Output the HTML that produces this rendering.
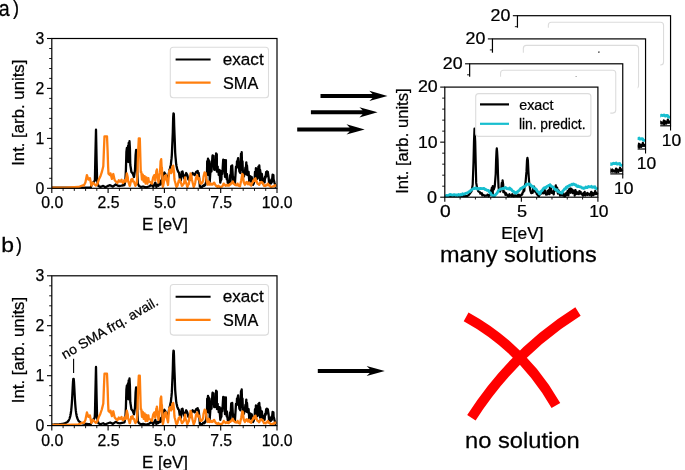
<!DOCTYPE html><html><head><meta charset="utf-8"><style>html,body{margin:0;padding:0;background:#fff;}svg{display:block;will-change:transform;} text{stroke:#000;stroke-width:0.25px;} svg{font-family:"Liberation Sans", sans-serif;}</style></head><body><svg width="685" height="470" viewBox="0 0 685 470" font-family="&quot;Liberation Sans&quot;, sans-serif">
<rect width="685" height="470" fill="#fff"/>
<polyline points="52.0,187.6 90.8,187.3 92.1,183.1 93.5,182.4 94.9,180.4 95.3,159.6 96.0,129.7 96.6,159.6 97.1,180.4 98.4,185.9 100.4,187.0 103.2,185.9 105.3,187.3 107.4,186.2 110.1,185.2 112.9,186.6 115.7,184.5 118.4,185.9 120.0,186.0 122.0,185.5 124.5,185.0 125.4,180.0 125.9,170.0 126.4,152.0 126.9,148.0 127.3,160.0 127.6,150.0 128.0,146.0 128.3,162.0 128.7,143.0 129.1,150.0 129.5,141.2 129.9,148.0 130.3,165.0 130.8,168.0 131.4,172.0 132.7,173.4 134.0,177.0 135.0,170.0 135.6,155.0 136.1,150.0 136.7,158.0 137.2,170.0 137.8,183.6 139.0,186.0 141.0,187.0 143.0,186.5 146.0,187.3 149.0,186.5 151.6,184.7 153.2,186.9 154.3,184.7 155.3,182.6 156.4,186.9 157.5,184.7 158.5,185.8 159.6,180.5 160.6,184.7 161.7,181.5 162.8,175.1 164.4,172.5 165.4,174.1 166.5,176.2 167.6,177.8 168.6,175.1 169.5,169.7 169.8,169.1 170.0,168.3 170.2,167.4 170.5,166.4 170.8,165.0 171.0,163.4 171.2,161.4 171.5,158.9 171.8,155.6 172.0,151.6 172.2,146.4 172.5,140.1 172.8,132.6 173.0,124.6 173.2,117.4 173.5,113.3 173.8,113.8 174.0,118.8 174.2,126.3 174.5,134.4 174.8,141.7 175.0,147.9 175.2,152.8 175.5,156.8 175.8,159.9 176.0,162.3 176.2,164.3 176.5,165.9 176.8,167.3 177.0,168.3 177.2,169.3 177.5,170.0 177.8,170.7 178.0,171.2 178.2,171.7 178.5,172.1 178.8,172.5 179.0,172.8 179.8,178.3 180.9,180.5 181.7,171.9 182.5,171.4 183.2,175.1 184.1,178.3 185.1,176.2 186.2,173.0 187.3,175.1 188.3,179.4 189.4,180.5 190.5,176.2 191.5,175.1 192.6,173.0 193.7,174.1 194.7,175.1 196.1,171.9 197.7,170.9 198.0,173.3 198.7,173.0 198.9,175.3 199.8,185.7 199.8,186.5 200.7,187.2 201.4,186.8 201.6,187.1 202.5,186.7 203.0,185.7 203.4,185.5 204.3,185.9 204.6,184.7 205.2,185.1 206.1,182.0 206.2,175.1 207.0,174.8 207.2,161.3 207.9,160.8 208.0,158.6 208.8,175.3 208.8,160.2 209.7,175.1 209.7,181.9 210.4,171.9 210.6,172.0 211.5,161.3 211.5,171.5 212.4,156.7 212.6,155.4 213.3,158.1 213.6,156.0 214.2,169.8 214.5,169.8 215.1,165.0 215.2,161.3 216.0,169.6 216.1,153.3 216.8,154.4 216.9,171.7 217.7,166.6 217.8,171.7 218.6,171.9 218.7,174.9 219.5,169.8 219.6,172.9 220.3,182.6 220.5,181.3 221.4,179.3 221.6,170.9 222.3,174.0 223.2,159.7 223.2,160.6 224.1,168.2 224.3,160.2 225.0,176.9 225.1,175.1 225.9,160.2 225.9,174.8 226.8,179.3 226.9,174.0 227.7,182.7 228.0,181.5 228.6,184.2 229.0,182.6 229.5,184.4 230.1,175.1 230.4,181.9 231.2,166.1 231.3,170.5 232.2,168.8 232.2,165.5 233.1,181.4 233.3,177.2 234.0,179.9 234.9,182.6 234.9,183.7 235.8,169.8 236.0,166.6 236.7,167.8 237.0,161.3 237.6,160.8 238.1,158.1 238.5,162.8 239.4,171.4 240.3,173.0 241.0,153.8 241.2,170.0 241.7,152.2 242.1,167.4 242.5,161.3 243.0,175.5 243.3,171.9 243.9,176.4 244.4,174.0 244.8,173.2 245.4,167.6 245.7,171.9 246.3,162.3 246.6,174.5 247.0,165.5 247.5,172.1 247.8,175.1 248.4,173.0 248.6,171.9 249.3,182.2 249.5,178.3 250.2,178.4 250.2,176.2 251.0,176.7 251.1,181.6 251.8,177.2 252.0,182.4 252.9,180.4 252.9,184.8 253.8,183.3 253.9,182.0 254.7,177.8 255.0,171.9 255.6,178.5 255.9,168.2 256.5,177.7 256.6,168.7 257.4,178.8 257.7,174.0 258.3,177.7 258.4,166.6 259.2,174.3 259.3,165.5 260.1,180.4 260.1,169.8 260.9,176.2 261.0,178.4 261.9,180.4 261.9,174.0 262.8,183.7 263.0,178.3 263.7,182.0 264.0,181.5 264.6,182.4 265.1,176.7 265.5,177.9 266.2,171.9 266.4,176.3 266.9,171.4 267.3,172.4 267.8,171.9 268.2,174.7 268.6,177.2 269.1,183.4 269.4,180.4 270.0,183.2 270.4,182.0 270.9,183.6 271.5,179.3 271.8,182.5 272.6,174.6 272.7,178.1 273.4,175.1 273.6,179.3 274.2,181.5 274.5,183.1 275.2,184.7 275.4,186.6 276.1,186.8" fill="none" stroke="#000" stroke-width="2.3" stroke-linejoin="round"/>
<polyline points="52.0,187.6 65.8,187.6 78.3,187.0 79.7,186.6 83.1,185.2 83.9,185.6 85.4,182.6 86.9,175.1 88.4,179.6 89.9,178.1 91.4,185.6 92.9,182.6 94.4,184.1 95.9,185.6 97.4,184.1 98.8,179.6 100.3,176.6 101.8,172.2 103.3,166.2 103.9,150.6 104.5,136.4 107.0,136.4 107.6,150.6 108.1,166.2 108.5,173.7 110.0,175.1 110.5,173.3 111.9,178.9 113.3,174.0 114.7,180.2 116.0,181.6 117.4,183.0 118.8,180.2 120.0,181.7 120.2,181.6 121.6,179.6 121.6,181.2 123.0,183.0 123.2,182.9 124.3,180.2 124.8,181.7 125.7,181.6 126.4,176.6 126.8,173.3 127.8,177.5 128.0,180.9 128.8,183.0 129.6,185.8 129.9,185.8 131.2,179.8 131.2,179.6 132.6,178.9 132.8,181.4 134.0,181.6 134.4,183.0 135.4,185.8 136.0,184.8 136.8,183.0 137.6,168.3 138.1,152.6 138.8,138.4 139.2,150.2 139.8,138.4 140.6,166.4 140.8,172.1 141.3,172.0 142.0,179.6 142.4,177.3 142.8,174.7 143.7,181.6 144.0,180.9 144.6,176.1 145.6,183.7 145.6,183.0 146.4,177.5 147.2,183.1 147.4,183.7 148.4,178.2 148.8,181.6 149.2,181.6 150.4,182.3 152.0,183.7 152.1,182.6 153.2,177.3 153.6,176.5 154.3,175.1 155.2,180.1 155.3,180.5 156.4,170.9 156.8,170.2 156.9,169.3 157.7,176.2 158.4,182.2 158.5,182.6 159.6,175.1 160.0,172.9 160.6,161.3 161.2,159.2 161.6,166.8 161.9,167.7 162.8,186.9 163.2,185.8 163.8,182.6 164.8,177.7 164.9,176.2 166.0,175.1 166.4,179.3 167.0,180.5 168.0,185.0 168.1,184.7 169.2,170.9 169.6,171.9 170.2,169.8 171.2,173.1 171.3,171.9 172.4,166.6 172.8,171.5 173.2,165.6 174.0,171.9 174.4,178.7 174.7,180.5 175.6,183.7 176.0,185.8 176.6,186.9 177.6,185.6 177.7,184.7 178.8,180.5 179.2,181.7 179.8,179.4 180.8,183.0 180.9,182.6 181.9,185.8 182.4,185.7 183.0,184.7 184.0,183.3 184.1,182.6 185.1,177.3 185.6,181.7 186.2,182.6 187.2,186.6 187.3,186.9 188.3,184.7 188.8,184.2 189.4,180.5 190.4,175.5 190.5,173.5 191.5,176.2 192.0,180.0 192.6,182.6 193.6,186.8 193.7,186.9 194.7,184.7 195.2,182.7 196.1,177.2 196.8,177.2 197.1,175.1 198.2,179.4 198.4,179.2 199.3,178.3 200.0,182.2 200.3,183.6 201.4,182.6 201.6,183.6 202.4,182.6 203.2,180.0 203.5,176.7 204.6,172.4 204.8,172.7 205.6,173.0 206.4,179.8 206.7,181.5 207.8,184.7 208.0,184.2 208.8,181.5 209.6,183.9 209.9,184.7 211.0,183.6 211.2,184.4 212.0,184.7 212.8,184.4 213.1,183.6 214.1,182.6 214.4,183.1 215.2,184.7 216.0,185.9 216.3,185.7 217.3,186.8 217.6,186.9 218.4,185.7 219.2,186.6 219.5,186.8 220.5,186.8 220.8,186.8 222.4,186.3 222.7,185.7 223.7,183.6 224.0,184.4 224.8,184.7 225.6,185.8 225.9,185.7 226.9,184.7 227.2,185.4 228.0,185.7 228.8,185.7 229.0,184.7 230.1,184.1 230.4,184.5 231.7,182.6 232.0,183.2 232.8,181.5 233.6,183.7 233.8,183.6 234.9,184.7 235.2,185.1 236.5,184.7 236.8,185.2 237.6,183.6 238.4,185.5 238.6,185.7 240.0,186.3 240.1,185.7 241.2,180.4 241.6,178.1 242.3,174.0 243.1,175.1 243.2,177.9 243.8,182.5 244.8,184.5 244.9,184.7 246.0,182.5 246.4,183.3 247.0,182.0 248.0,184.2 248.1,183.6 249.2,182.5 249.6,184.5 250.2,184.7 251.2,185.5 251.3,184.7 252.4,182.5 252.8,182.4 253.4,180.4 254.4,180.9 254.5,179.3 255.5,178.3 256.0,181.6 256.3,180.4 257.1,182.5 257.6,183.8 258.2,183.6 259.2,184.9 259.3,184.7 260.3,182.5 260.8,182.8 261.4,182.0 262.4,182.9 262.5,182.5 263.5,184.7 264.0,185.9 264.6,185.7 265.6,186.0 265.6,185.7 266.7,184.7 267.2,185.1 267.8,183.6 268.8,185.4 268.8,184.7 269.9,185.7 270.4,186.6 271.0,186.8 272.0,186.8 272.0,186.8 273.1,186.3 273.6,186.5 274.2,185.7 275.2,185.9 275.2,185.2 276.5,185.7" fill="none" stroke="#ff7f0e" stroke-width="2.3" stroke-linejoin="round"/>
<rect x="51.8" y="38.5" width="225.2" height="149.8" fill="none" stroke="#000" stroke-width="1.2"/>
<line x1="47.0" y1="188.3" x2="51.8" y2="188.3" stroke="#000" stroke-width="1.1"/>
<line x1="47.0" y1="138.4" x2="51.8" y2="138.4" stroke="#000" stroke-width="1.1"/>
<line x1="47.0" y1="88.4" x2="51.8" y2="88.4" stroke="#000" stroke-width="1.1"/>
<line x1="47.0" y1="38.5" x2="51.8" y2="38.5" stroke="#000" stroke-width="1.1"/>
<line x1="49.2" y1="178.3" x2="51.8" y2="178.3" stroke="#000" stroke-width="0.9"/>
<line x1="49.2" y1="168.3" x2="51.8" y2="168.3" stroke="#000" stroke-width="0.9"/>
<line x1="49.2" y1="158.3" x2="51.8" y2="158.3" stroke="#000" stroke-width="0.9"/>
<line x1="49.2" y1="148.4" x2="51.8" y2="148.4" stroke="#000" stroke-width="0.9"/>
<line x1="49.2" y1="128.4" x2="51.8" y2="128.4" stroke="#000" stroke-width="0.9"/>
<line x1="49.2" y1="118.4" x2="51.8" y2="118.4" stroke="#000" stroke-width="0.9"/>
<line x1="49.2" y1="108.4" x2="51.8" y2="108.4" stroke="#000" stroke-width="0.9"/>
<line x1="49.2" y1="98.4" x2="51.8" y2="98.4" stroke="#000" stroke-width="0.9"/>
<line x1="49.2" y1="78.4" x2="51.8" y2="78.4" stroke="#000" stroke-width="0.9"/>
<line x1="49.2" y1="68.5" x2="51.8" y2="68.5" stroke="#000" stroke-width="0.9"/>
<line x1="49.2" y1="58.5" x2="51.8" y2="58.5" stroke="#000" stroke-width="0.9"/>
<line x1="49.2" y1="48.5" x2="51.8" y2="48.5" stroke="#000" stroke-width="0.9"/>
<line x1="51.8" y1="188.3" x2="51.8" y2="193.1" stroke="#000" stroke-width="1.1"/>
<line x1="63.1" y1="188.3" x2="63.1" y2="190.9" stroke="#000" stroke-width="0.9"/>
<line x1="74.3" y1="188.3" x2="74.3" y2="190.9" stroke="#000" stroke-width="0.9"/>
<line x1="85.6" y1="188.3" x2="85.6" y2="190.9" stroke="#000" stroke-width="0.9"/>
<line x1="96.8" y1="188.3" x2="96.8" y2="190.9" stroke="#000" stroke-width="0.9"/>
<line x1="108.1" y1="188.3" x2="108.1" y2="193.1" stroke="#000" stroke-width="1.1"/>
<line x1="119.4" y1="188.3" x2="119.4" y2="190.9" stroke="#000" stroke-width="0.9"/>
<line x1="130.6" y1="188.3" x2="130.6" y2="190.9" stroke="#000" stroke-width="0.9"/>
<line x1="141.9" y1="188.3" x2="141.9" y2="190.9" stroke="#000" stroke-width="0.9"/>
<line x1="153.1" y1="188.3" x2="153.1" y2="190.9" stroke="#000" stroke-width="0.9"/>
<line x1="164.4" y1="188.3" x2="164.4" y2="193.1" stroke="#000" stroke-width="1.1"/>
<line x1="175.7" y1="188.3" x2="175.7" y2="190.9" stroke="#000" stroke-width="0.9"/>
<line x1="186.9" y1="188.3" x2="186.9" y2="190.9" stroke="#000" stroke-width="0.9"/>
<line x1="198.2" y1="188.3" x2="198.2" y2="190.9" stroke="#000" stroke-width="0.9"/>
<line x1="209.4" y1="188.3" x2="209.4" y2="190.9" stroke="#000" stroke-width="0.9"/>
<line x1="220.7" y1="188.3" x2="220.7" y2="193.1" stroke="#000" stroke-width="1.1"/>
<line x1="232.0" y1="188.3" x2="232.0" y2="190.9" stroke="#000" stroke-width="0.9"/>
<line x1="243.2" y1="188.3" x2="243.2" y2="190.9" stroke="#000" stroke-width="0.9"/>
<line x1="254.5" y1="188.3" x2="254.5" y2="190.9" stroke="#000" stroke-width="0.9"/>
<line x1="265.7" y1="188.3" x2="265.7" y2="190.9" stroke="#000" stroke-width="0.9"/>
<line x1="277.0" y1="188.3" x2="277.0" y2="193.1" stroke="#000" stroke-width="1.1"/>
<rect x="170.3" y="47.2" width="98.2" height="50.6" rx="3" fill="#fff" fill-opacity="0.8" stroke="#dcdcdc" stroke-width="1.1"/>
<line x1="175.6" y1="59.5" x2="210.6" y2="59.5" stroke="#000" stroke-width="2.1" stroke-linecap="butt"/>
<line x1="175.6" y1="82.6" x2="210.6" y2="82.6" stroke="#ff7f0e" stroke-width="2.1"/>
<polyline points="52.0,424.6 52.3,424.6 52.6,424.6 52.9,424.6 53.2,424.6 53.5,424.6 53.9,424.6 54.2,424.5 54.5,424.5 54.8,424.5 55.1,424.5 55.4,424.5 55.7,424.5 56.0,424.5 56.3,424.5 56.6,424.4 56.9,424.4 57.3,424.4 57.6,424.4 57.9,424.4 58.2,424.3 58.5,424.3 58.8,424.3 59.1,424.3 59.4,424.3 59.7,424.2 60.0,424.2 60.4,424.2 60.7,424.1 61.0,424.1 61.3,424.1 61.6,424.0 61.9,424.0 62.2,423.9 62.5,423.9 62.8,423.8 63.1,423.8 63.4,423.7 63.8,423.6 64.1,423.6 64.4,423.5 64.7,423.4 65.0,423.3 65.3,423.2 65.6,423.0 65.9,422.9 66.2,422.7 66.5,422.6 66.8,422.4 67.2,422.1 67.5,421.9 67.8,421.6 68.1,421.2 68.4,420.8 68.7,420.4 69.0,419.8 69.3,419.1 69.6,418.3 69.9,417.3 70.3,416.1 70.6,414.6 70.9,412.8 71.2,410.4 71.5,407.4 71.8,403.7 72.1,399.0 72.4,393.5 72.7,387.6 73.0,382.1 73.3,378.8 73.7,378.8 74.0,382.1 74.3,387.5 74.6,393.5 74.9,399.0 75.2,403.6 75.5,407.4 75.8,410.4 76.1,412.7 76.4,414.6 76.7,416.1 77.1,417.3 77.4,418.3 77.7,419.1 78.0,419.7 78.3,420.3 78.6,420.8 78.9,421.2 79.2,421.5 79.5,421.8 79.8,422.0 80.2,422.3 80.5,422.5 80.8,422.6 81.1,422.8 81.4,422.9 81.7,423.0 82.0,423.2 82.3,423.3 82.6,423.3 82.9,423.4 83.2,423.5 83.6,423.6 83.9,423.6 84.2,423.7 84.5,423.7 84.8,423.8 85.1,423.8 85.4,423.8 85.7,423.9 86.0,423.9 86.3,423.9 86.6,424.0 87.0,424.0 87.3,424.0 87.6,424.1 87.9,424.1 88.2,424.1 88.5,424.1 88.8,424.1 89.1,424.1 89.4,424.2 89.7,424.2 90.1,424.2 90.4,424.2 90.7,424.2 91.0,423.5 91.3,422.6 91.6,421.7 91.9,420.8 92.2,420.1 92.5,419.9 92.8,419.8 93.1,419.6 93.5,419.5 93.8,419.1 94.1,418.7 94.4,418.2 94.7,417.7 95.0,412.8 95.3,396.9 96.0,367.0 96.6,396.9 97.1,417.7 98.4,423.2 100.4,424.3 103.2,423.2 105.3,424.6 107.4,423.5 110.1,422.5 112.9,423.9 115.7,421.8 118.4,423.2 120.0,423.3 122.0,422.8 124.5,422.3 125.4,417.3 125.9,407.3 126.4,389.3 126.9,385.3 127.3,397.3 127.6,387.3 128.0,383.3 128.3,399.3 128.7,380.3 129.1,387.3 129.5,378.5 129.9,385.3 130.3,402.3 130.8,405.3 131.4,409.3 132.7,410.7 134.0,414.3 135.0,407.3 135.6,392.3 136.1,387.3 136.7,395.3 137.2,407.3 137.8,420.9 139.0,423.3 141.0,424.3 143.0,423.8 146.0,424.6 149.0,423.8 151.6,422.0 153.2,424.2 154.3,422.0 155.3,419.9 156.4,424.2 157.5,422.0 158.5,423.1 159.6,417.8 160.6,422.0 161.7,418.8 162.8,412.4 164.4,409.8 165.4,411.4 166.5,413.5 167.6,415.1 168.6,412.4 169.5,407.0 169.8,406.4 170.0,405.6 170.2,404.7 170.5,403.7 170.8,402.3 171.0,400.7 171.2,398.7 171.5,396.2 171.8,392.9 172.0,388.9 172.2,383.7 172.5,377.4 172.8,369.9 173.0,361.9 173.2,354.7 173.5,350.6 173.8,351.1 174.0,356.1 174.2,363.6 174.5,371.7 174.8,379.0 175.0,385.2 175.2,390.1 175.5,394.1 175.8,397.2 176.0,399.6 176.2,401.6 176.5,403.2 176.8,404.6 177.0,405.6 177.2,406.6 177.5,407.3 177.8,408.0 178.0,408.5 178.2,409.0 178.5,409.4 178.8,409.8 179.0,410.1 179.8,415.6 180.9,417.8 181.7,409.2 182.5,408.7 183.2,412.4 184.1,415.6 185.1,413.5 186.2,410.3 187.3,412.4 188.3,416.7 189.4,417.8 190.5,413.5 191.5,412.4 192.6,410.3 193.7,411.4 194.7,412.4 196.1,409.2 197.7,408.2 198.0,410.6 198.7,410.3 198.9,412.6 199.8,423.0 199.8,423.8 200.7,424.5 201.4,424.1 201.6,424.4 202.5,424.0 203.0,423.0 203.4,422.8 204.3,423.2 204.6,422.0 205.2,422.4 206.1,419.3 206.2,412.4 207.0,412.1 207.2,398.6 207.9,398.1 208.0,395.9 208.8,412.6 208.8,397.5 209.7,412.4 209.7,419.2 210.4,409.2 210.6,409.3 211.5,398.6 211.5,408.8 212.4,394.0 212.6,392.7 213.3,395.4 213.6,393.3 214.2,407.1 214.5,407.1 215.1,402.3 215.2,398.6 216.0,406.9 216.1,390.6 216.8,391.7 216.9,409.0 217.7,403.9 217.8,409.0 218.6,409.2 218.7,412.2 219.5,407.1 219.6,410.2 220.3,419.9 220.5,418.6 221.4,416.6 221.6,408.2 222.3,411.3 223.2,397.0 223.2,397.9 224.1,405.5 224.3,397.5 225.0,414.2 225.1,412.4 225.9,397.5 225.9,412.1 226.8,416.6 226.9,411.3 227.7,420.0 228.0,418.8 228.6,421.5 229.0,419.9 229.5,421.7 230.1,412.4 230.4,419.2 231.2,403.4 231.3,407.8 232.2,406.1 232.2,402.8 233.1,418.7 233.3,414.5 234.0,417.2 234.9,419.9 234.9,421.0 235.8,407.1 236.0,403.9 236.7,405.1 237.0,398.6 237.6,398.1 238.1,395.4 238.5,400.1 239.4,408.7 240.3,410.3 241.0,391.1 241.2,407.3 241.7,389.5 242.1,404.7 242.5,398.6 243.0,412.8 243.3,409.2 243.9,413.7 244.4,411.3 244.8,410.5 245.4,404.9 245.7,409.2 246.3,399.6 246.6,411.8 247.0,402.8 247.5,409.4 247.8,412.4 248.4,410.3 248.6,409.2 249.3,419.5 249.5,415.6 250.2,415.7 250.2,413.5 251.0,414.0 251.1,418.9 251.8,414.5 252.0,419.7 252.9,417.7 252.9,422.1 253.8,420.6 253.9,419.3 254.7,415.1 255.0,409.2 255.6,415.8 255.9,405.5 256.5,415.0 256.6,406.0 257.4,416.1 257.7,411.3 258.3,415.0 258.4,403.9 259.2,411.6 259.3,402.8 260.1,417.7 260.1,407.1 260.9,413.5 261.0,415.7 261.9,417.7 261.9,411.3 262.8,421.0 263.0,415.6 263.7,419.3 264.0,418.8 264.6,419.7 265.1,414.0 265.5,415.2 266.2,409.2 266.4,413.6 266.9,408.7 267.3,409.7 267.8,409.2 268.2,412.0 268.6,414.5 269.1,420.7 269.4,417.7 270.0,420.5 270.4,419.3 270.9,420.9 271.5,416.6 271.8,419.8 272.6,411.9 272.7,415.4 273.4,412.4 273.6,416.6 274.2,418.8 274.5,420.4 275.2,422.0 275.4,423.9 276.1,424.1" fill="none" stroke="#000" stroke-width="2.3" stroke-linejoin="round"/>
<polyline points="52.0,424.9 65.8,424.9 78.3,424.3 79.7,423.9 83.1,422.5 83.9,422.9 85.4,419.9 86.9,412.4 88.4,416.9 89.9,415.4 91.4,422.9 92.9,419.9 94.4,421.4 95.9,422.9 97.4,421.4 98.8,416.9 100.3,413.9 101.8,409.5 103.3,403.5 103.9,387.9 104.5,373.7 107.0,373.7 107.6,387.9 108.1,403.5 108.5,411.0 110.0,412.4 110.5,410.6 111.9,416.2 113.3,411.3 114.7,417.5 116.0,418.9 117.4,420.3 118.8,417.5 120.0,419.0 120.2,418.9 121.6,416.9 121.6,418.5 123.0,420.3 123.2,420.2 124.3,417.5 124.8,419.0 125.7,418.9 126.4,413.9 126.8,410.6 127.8,414.8 128.0,418.2 128.8,420.3 129.6,423.1 129.9,423.1 131.2,417.1 131.2,416.9 132.6,416.2 132.8,418.7 134.0,418.9 134.4,420.3 135.4,423.1 136.0,422.1 136.8,420.3 137.6,405.6 138.1,389.9 138.8,375.7 139.2,387.5 139.8,375.7 140.6,403.7 140.8,409.4 141.3,409.3 142.0,416.9 142.4,414.6 142.8,412.0 143.7,418.9 144.0,418.2 144.6,413.4 145.6,421.0 145.6,420.3 146.4,414.8 147.2,420.4 147.4,421.0 148.4,415.5 148.8,418.9 149.2,418.9 150.4,419.6 152.0,421.0 152.1,419.9 153.2,414.6 153.6,413.8 154.3,412.4 155.2,417.4 155.3,417.8 156.4,408.2 156.8,407.5 156.9,406.6 157.7,413.5 158.4,419.5 158.5,419.9 159.6,412.4 160.0,410.2 160.6,398.6 161.2,396.5 161.6,404.1 161.9,405.0 162.8,424.2 163.2,423.1 163.8,419.9 164.8,415.0 164.9,413.5 166.0,412.4 166.4,416.6 167.0,417.8 168.0,422.3 168.1,422.0 169.2,408.2 169.6,409.2 170.2,407.1 171.2,410.4 171.3,409.2 172.4,403.9 172.8,408.8 173.2,402.9 174.0,409.2 174.4,416.0 174.7,417.8 175.6,421.0 176.0,423.1 176.6,424.2 177.6,422.9 177.7,422.0 178.8,417.8 179.2,419.0 179.8,416.7 180.8,420.3 180.9,419.9 181.9,423.1 182.4,423.0 183.0,422.0 184.0,420.6 184.1,419.9 185.1,414.6 185.6,419.0 186.2,419.9 187.2,423.9 187.3,424.2 188.3,422.0 188.8,421.5 189.4,417.8 190.4,412.8 190.5,410.8 191.5,413.5 192.0,417.3 192.6,419.9 193.6,424.1 193.7,424.2 194.7,422.0 195.2,420.0 196.1,414.5 196.8,414.5 197.1,412.4 198.2,416.7 198.4,416.5 199.3,415.6 200.0,419.5 200.3,420.9 201.4,419.9 201.6,420.9 202.4,419.9 203.2,417.3 203.5,414.0 204.6,409.7 204.8,410.0 205.6,410.3 206.4,417.1 206.7,418.8 207.8,422.0 208.0,421.5 208.8,418.8 209.6,421.2 209.9,422.0 211.0,420.9 211.2,421.7 212.0,422.0 212.8,421.7 213.1,420.9 214.1,419.9 214.4,420.4 215.2,422.0 216.0,423.2 216.3,423.0 217.3,424.1 217.6,424.2 218.4,423.0 219.2,423.9 219.5,424.1 220.5,424.1 220.8,424.1 222.4,423.6 222.7,423.0 223.7,420.9 224.0,421.7 224.8,422.0 225.6,423.1 225.9,423.0 226.9,422.0 227.2,422.7 228.0,423.0 228.8,423.0 229.0,422.0 230.1,421.4 230.4,421.8 231.7,419.9 232.0,420.5 232.8,418.8 233.6,421.0 233.8,420.9 234.9,422.0 235.2,422.4 236.5,422.0 236.8,422.5 237.6,420.9 238.4,422.8 238.6,423.0 240.0,423.6 240.1,423.0 241.2,417.7 241.6,415.4 242.3,411.3 243.1,412.4 243.2,415.2 243.8,419.8 244.8,421.8 244.9,422.0 246.0,419.8 246.4,420.6 247.0,419.3 248.0,421.5 248.1,420.9 249.2,419.8 249.6,421.8 250.2,422.0 251.2,422.8 251.3,422.0 252.4,419.8 252.8,419.7 253.4,417.7 254.4,418.2 254.5,416.6 255.5,415.6 256.0,418.9 256.3,417.7 257.1,419.8 257.6,421.1 258.2,420.9 259.2,422.2 259.3,422.0 260.3,419.8 260.8,420.1 261.4,419.3 262.4,420.2 262.5,419.8 263.5,422.0 264.0,423.2 264.6,423.0 265.6,423.3 265.6,423.0 266.7,422.0 267.2,422.4 267.8,420.9 268.8,422.7 268.8,422.0 269.9,423.0 270.4,423.9 271.0,424.1 272.0,424.1 272.0,424.1 273.1,423.6 273.6,423.8 274.2,423.0 275.2,423.2 275.2,422.5 276.5,423.0" fill="none" stroke="#ff7f0e" stroke-width="2.3" stroke-linejoin="round"/>
<rect x="51.8" y="275.8" width="225.2" height="149.8" fill="none" stroke="#000" stroke-width="1.2"/>
<line x1="47.0" y1="425.6" x2="51.8" y2="425.6" stroke="#000" stroke-width="1.1"/>
<line x1="47.0" y1="375.7" x2="51.8" y2="375.7" stroke="#000" stroke-width="1.1"/>
<line x1="47.0" y1="325.7" x2="51.8" y2="325.7" stroke="#000" stroke-width="1.1"/>
<line x1="47.0" y1="275.8" x2="51.8" y2="275.8" stroke="#000" stroke-width="1.1"/>
<line x1="49.2" y1="415.6" x2="51.8" y2="415.6" stroke="#000" stroke-width="0.9"/>
<line x1="49.2" y1="405.6" x2="51.8" y2="405.6" stroke="#000" stroke-width="0.9"/>
<line x1="49.2" y1="395.6" x2="51.8" y2="395.6" stroke="#000" stroke-width="0.9"/>
<line x1="49.2" y1="385.7" x2="51.8" y2="385.7" stroke="#000" stroke-width="0.9"/>
<line x1="49.2" y1="365.7" x2="51.8" y2="365.7" stroke="#000" stroke-width="0.9"/>
<line x1="49.2" y1="355.7" x2="51.8" y2="355.7" stroke="#000" stroke-width="0.9"/>
<line x1="49.2" y1="345.7" x2="51.8" y2="345.7" stroke="#000" stroke-width="0.9"/>
<line x1="49.2" y1="335.7" x2="51.8" y2="335.7" stroke="#000" stroke-width="0.9"/>
<line x1="49.2" y1="315.7" x2="51.8" y2="315.7" stroke="#000" stroke-width="0.9"/>
<line x1="49.2" y1="305.8" x2="51.8" y2="305.8" stroke="#000" stroke-width="0.9"/>
<line x1="49.2" y1="295.8" x2="51.8" y2="295.8" stroke="#000" stroke-width="0.9"/>
<line x1="49.2" y1="285.8" x2="51.8" y2="285.8" stroke="#000" stroke-width="0.9"/>
<line x1="51.8" y1="425.6" x2="51.8" y2="430.4" stroke="#000" stroke-width="1.1"/>
<line x1="63.1" y1="425.6" x2="63.1" y2="428.2" stroke="#000" stroke-width="0.9"/>
<line x1="74.3" y1="425.6" x2="74.3" y2="428.2" stroke="#000" stroke-width="0.9"/>
<line x1="85.6" y1="425.6" x2="85.6" y2="428.2" stroke="#000" stroke-width="0.9"/>
<line x1="96.8" y1="425.6" x2="96.8" y2="428.2" stroke="#000" stroke-width="0.9"/>
<line x1="108.1" y1="425.6" x2="108.1" y2="430.4" stroke="#000" stroke-width="1.1"/>
<line x1="119.4" y1="425.6" x2="119.4" y2="428.2" stroke="#000" stroke-width="0.9"/>
<line x1="130.6" y1="425.6" x2="130.6" y2="428.2" stroke="#000" stroke-width="0.9"/>
<line x1="141.9" y1="425.6" x2="141.9" y2="428.2" stroke="#000" stroke-width="0.9"/>
<line x1="153.1" y1="425.6" x2="153.1" y2="428.2" stroke="#000" stroke-width="0.9"/>
<line x1="164.4" y1="425.6" x2="164.4" y2="430.4" stroke="#000" stroke-width="1.1"/>
<line x1="175.7" y1="425.6" x2="175.7" y2="428.2" stroke="#000" stroke-width="0.9"/>
<line x1="186.9" y1="425.6" x2="186.9" y2="428.2" stroke="#000" stroke-width="0.9"/>
<line x1="198.2" y1="425.6" x2="198.2" y2="428.2" stroke="#000" stroke-width="0.9"/>
<line x1="209.4" y1="425.6" x2="209.4" y2="428.2" stroke="#000" stroke-width="0.9"/>
<line x1="220.7" y1="425.6" x2="220.7" y2="430.4" stroke="#000" stroke-width="1.1"/>
<line x1="232.0" y1="425.6" x2="232.0" y2="428.2" stroke="#000" stroke-width="0.9"/>
<line x1="243.2" y1="425.6" x2="243.2" y2="428.2" stroke="#000" stroke-width="0.9"/>
<line x1="254.5" y1="425.6" x2="254.5" y2="428.2" stroke="#000" stroke-width="0.9"/>
<line x1="265.7" y1="425.6" x2="265.7" y2="428.2" stroke="#000" stroke-width="0.9"/>
<line x1="277.0" y1="425.6" x2="277.0" y2="430.4" stroke="#000" stroke-width="1.1"/>
<rect x="170.3" y="284.5" width="98.2" height="50.6" rx="3" fill="#fff" fill-opacity="0.8" stroke="#dcdcdc" stroke-width="1.1"/>
<line x1="175.6" y1="296.8" x2="210.6" y2="296.8" stroke="#000" stroke-width="2.1" stroke-linecap="butt"/>
<line x1="175.6" y1="319.9" x2="210.6" y2="319.9" stroke="#ff7f0e" stroke-width="2.1"/>
<line x1="73.6" y1="358.8" x2="73.6" y2="372.9" stroke="#000" stroke-width="1.1"/>
<text transform="translate(35.43,193.80) scale(1.0000,1)" font-size="15.80" fill="#000">0</text>
<text transform="translate(35.59,143.87) scale(1.0000,1)" font-size="15.80" fill="#000">1</text>
<text transform="translate(35.61,93.93) scale(1.0000,1)" font-size="15.80" fill="#000">2</text>
<text transform="translate(35.51,44.00) scale(1.0000,1)" font-size="15.80" fill="#000">3</text>
<text transform="translate(41.32,208.40) scale(1.0000,1)" font-size="15.80" fill="#000">0.0</text>
<text transform="translate(97.56,208.40) scale(1.0000,1)" font-size="15.80" fill="#000">2.5</text>
<text transform="translate(153.91,208.40) scale(1.0000,1)" font-size="15.80" fill="#000">5.0</text>
<text transform="translate(210.15,208.40) scale(1.0000,1)" font-size="15.80" fill="#000">7.5</text>
<text transform="translate(261.83,208.40) scale(1.0000,1)" font-size="15.80" fill="#000">10.0</text>
<text transform="translate(142.02,230.20) scale(1.0684,1)" font-size="15.80" fill="#000">E [eV]</text>
<g transform="translate(24.3,164.30) rotate(-90)"><text transform="translate(-1.54,0) scale(1.0620,1)" font-size="15.8">Int. [arb. units]</text></g>
<text transform="translate(222.78,64.80) scale(1.0381,1)" font-size="16.50" fill="#000">exact</text>
<text transform="translate(223.05,88.50) scale(0.9839,1)" font-size="16.50" fill="#000">SMA</text>
<text transform="translate(35.43,431.10) scale(1.0000,1)" font-size="15.80" fill="#000">0</text>
<text transform="translate(35.59,381.17) scale(1.0000,1)" font-size="15.80" fill="#000">1</text>
<text transform="translate(35.61,331.23) scale(1.0000,1)" font-size="15.80" fill="#000">2</text>
<text transform="translate(35.51,281.30) scale(1.0000,1)" font-size="15.80" fill="#000">3</text>
<text transform="translate(41.32,445.70) scale(1.0000,1)" font-size="15.80" fill="#000">0.0</text>
<text transform="translate(97.56,445.70) scale(1.0000,1)" font-size="15.80" fill="#000">2.5</text>
<text transform="translate(153.91,445.70) scale(1.0000,1)" font-size="15.80" fill="#000">5.0</text>
<text transform="translate(210.15,445.70) scale(1.0000,1)" font-size="15.80" fill="#000">7.5</text>
<text transform="translate(261.83,445.70) scale(1.0000,1)" font-size="15.80" fill="#000">10.0</text>
<text transform="translate(142.02,467.50) scale(1.0684,1)" font-size="15.80" fill="#000">E [eV]</text>
<g transform="translate(24.3,401.60) rotate(-90)"><text transform="translate(-1.54,0) scale(1.0620,1)" font-size="15.8">Int. [arb. units]</text></g>
<text transform="translate(222.78,302.10) scale(1.0381,1)" font-size="16.50" fill="#000">exact</text>
<text transform="translate(223.05,325.80) scale(0.9839,1)" font-size="16.50" fill="#000">SMA</text>
<text transform="translate(-1.13,15.70) scale(0.9139,1)" font-size="21.50" fill="#000">a</text>
<text transform="translate(12.89,15.00) scale(0.8836,1)" font-size="20.50" fill="#000">)</text>
<text transform="translate(1.31,252.40) scale(1.0924,1)" font-size="21.00" fill="#000">b</text>
<text transform="translate(15.89,251.60) scale(0.8652,1)" font-size="20.50" fill="#000">)</text>
<g transform="translate(65.5,359.0) rotate(-30.2)"><text transform="translate(-0.92,0) scale(1.0359,1)" font-size="13.5">no SMA frq. avail.</text></g>
<path d="M320.5,93.90 L372.50,93.90 L369.30,90.80 L387.50,95.90 L369.30,101.00 L372.50,97.90 L320.5,97.90 Z" fill="#000"/>
<path d="M310.9,110.30 L362.60,110.30 L359.40,107.20 L377.60,112.30 L359.40,117.40 L362.60,114.30 L310.9,114.30 Z" fill="#000"/>
<path d="M297.2,127.40 L349.70,127.40 L346.50,124.30 L364.70,129.40 L346.50,134.50 L349.70,131.40 L297.2,131.40 Z" fill="#000"/>
<path d="M317.8,369.00 L369.80,369.00 L366.60,365.90 L384.80,371.00 L366.60,376.10 L369.80,373.00 L317.8,373.00 Z" fill="#000"/>
<path d="M466.1,316.8 Q523,348 555.9,405.4" fill="none" stroke="#ff0000" stroke-width="10"/>
<path d="M471.4,417.7 Q513.5,352 578,311.6" fill="none" stroke="#ff0000" stroke-width="10"/>
<text transform="translate(465.03,448.30) scale(1.0540,1)" font-size="22.50" fill="#000">no solution</text>
<text transform="translate(440.05,261.50) scale(1.0441,1)" font-size="22.50" fill="#000">many solutions</text>
<defs><g id="panel"><polyline points="445.1,196.0 467.2,196.0 468.9,194.8 471.5,191.4 472.7,184.6 473.5,162.5 474.0,141.3 474.5,128.7 475.2,141.3 475.7,162.5 476.2,182.9 477.1,188.0 478.3,191.4 479.2,191.9 480.0,192.3 480.0,192.3 480.2,193.7 481.3,193.7 481.9,193.2 482.3,195.5 483.4,194.8 483.8,195.1 484.4,195.8 485.5,195.6 485.7,195.6 486.5,195.7 487.6,194.8 487.6,194.6 488.6,196.3 489.5,195.1 489.7,194.7 490.7,195.1 490.9,191.3 491.8,188.3 491.9,187.5 492.8,194.5 492.8,186.1 493.8,189.4 494.7,186.6 495.7,174.2 496.1,160.0 496.5,151.3 496.8,148.3 497.1,151.3 497.6,160.0 498.0,174.2 498.5,186.6 499.0,190.4 499.9,191.3 500.2,191.5 500.9,188.5 501.2,189.5 501.8,182.8 502.3,184.9 502.6,180.4 503.2,184.7 503.3,192.2 504.2,191.3 504.4,192.7 505.1,192.7 505.4,194.9 506.1,193.2 506.5,194.0 507.5,195.8 507.5,195.1 508.5,196.1 508.6,195.9 509.4,194.2 509.6,195.9 510.4,195.1 510.7,195.6 511.3,195.6 511.7,196.1 512.3,194.2 512.8,195.4 513.2,196.1 513.8,196.4 514.2,195.6 514.9,195.4 515.1,195.1 515.9,196.2 516.1,196.1 517.0,195.6 517.5,195.1 518.0,196.3 518.9,194.6 519.1,195.1 519.8,196.1 520.1,196.3 520.8,195.1 521.2,195.2 521.7,194.2 522.2,194.5 522.7,192.3 523.3,192.1 523.6,189.4 524.3,190.8 524.6,186.6 525.5,182.8 526.5,171.4 527.0,160.5 527.4,157.8 527.9,160.5 528.4,171.4 529.1,181.8 529.8,186.6 530.3,190.4 531.2,193.2 531.7,193.2 532.2,191.3 532.7,192.8 533.1,188.5 533.8,188.3 534.1,186.6 534.8,191.5 535.0,188.5 535.9,192.3 536.0,191.3 536.9,194.5 536.9,190.4 537.9,195.1 538.0,195.6 538.8,196.1 539.0,196.2 539.8,194.2 540.1,194.3 540.7,192.3 541.1,193.6 542.2,192.7 542.6,191.3 543.2,193.5 544.3,191.7 544.8,190.1 545.3,193.4 546.1,194.5 546.4,194.2 547.4,194.3 547.4,191.0 548.5,190.6 548.8,190.1 549.5,194.2 550.1,184.9 550.6,187.0 550.9,187.5 551.6,192.8 551.8,191.0 552.7,192.9 553.1,191.9 553.7,194.5 554.4,188.4 554.8,189.8 555.8,185.3 555.8,190.4 556.9,189.0 557.1,187.5 557.9,193.6 558.4,190.1 559.0,192.3 559.7,191.9 560.0,195.7 561.0,192.8 561.1,193.7 562.1,195.6 562.3,194.5 563.2,194.7 563.6,193.6 564.2,196.3 565.0,196.3 565.3,195.5 566.3,192.8 566.3,195.3 567.4,192.7 567.6,191.0 568.4,195.5 568.9,189.3 569.5,189.8 570.2,188.4 570.5,192.8 571.5,188.8 571.6,190.3 572.6,193.1 572.8,190.1 573.7,192.1 574.2,190.6 574.7,195.6 575.5,190.1 575.8,192.1 576.8,191.9 576.8,194.1 577.9,193.1 578.1,192.8 578.9,194.2 579.4,191.0 580.0,192.3 580.7,191.9 581.0,193.9 582.0,194.1 582.1,194.5 583.1,195.7 583.3,193.2 584.2,193.6 584.7,191.9 585.2,195.4 586.0,194.5 586.3,194.3 587.3,192.8 587.3,195.0 588.4,193.8 588.6,193.6 589.4,195.0 589.9,194.5 590.5,194.3 591.2,191.9 591.5,195.8 592.5,192.8 592.6,193.7 593.6,195.1 593.9,193.6 594.7,192.7 595.2,191.0 595.7,194.2 596.5,192.8 596.8,193.8 597.8,194.5" fill="none" stroke="#000" stroke-width="2.2" stroke-linejoin="round"/>
<polyline points="445.1,195.2 445.8,195.9 446.5,195.4 447.2,195.6 447.9,195.8 448.6,195.1 449.3,195.0 450.0,194.4 450.7,194.6 451.4,194.9 452.1,195.2 452.8,195.4 453.5,194.9 454.2,194.6 454.9,194.9 455.6,195.6 456.3,194.8 457.0,195.0 457.7,195.5 458.4,194.4 459.1,195.0 459.8,195.4 460.5,194.5 461.2,194.7 461.9,194.9 462.6,193.8 463.3,194.1 464.0,194.2 464.7,194.0 465.4,193.5 466.1,193.1 466.8,193.2 467.5,192.8 468.2,192.4 468.9,191.7 469.6,191.7 470.3,191.1 471.0,190.1 471.7,189.9 472.4,189.1 473.1,188.9 473.8,188.5 474.5,188.6 475.2,188.0 475.9,188.0 476.6,188.5 477.3,188.3 478.0,189.1 478.7,188.4 479.4,189.0 480.1,188.4 480.8,188.4 481.5,188.6 482.2,188.6 482.9,188.6 483.6,188.3 484.3,188.6 485.0,189.5 485.7,189.4 486.4,189.8 487.1,190.3 487.8,190.4 488.5,190.5 489.2,191.7 489.9,192.8 490.6,193.1 491.3,194.6 492.0,195.2 492.7,195.6 493.4,195.6 494.1,196.3 494.8,195.5 495.5,194.8 496.2,194.0 496.9,193.4 497.6,192.2 498.3,190.8 499.0,190.2 499.7,189.7 500.4,189.2 501.1,188.8 501.8,188.8 502.5,188.5 503.2,188.6 503.9,188.3 504.6,187.8 505.3,187.5 506.0,188.0 506.7,188.5 507.4,188.6 508.1,188.8 508.8,189.0 509.5,188.0 510.2,189.3 510.9,188.9 511.6,189.7 512.3,190.8 513.0,191.4 513.7,191.4 514.4,192.7 515.1,192.4 515.8,193.0 516.5,193.1 517.2,192.0 517.9,191.5 518.6,190.9 519.3,190.3 520.0,189.6 520.7,188.4 521.4,188.5 522.1,188.2 522.8,187.1 523.5,187.2 524.2,186.6 524.9,186.2 525.6,185.6 526.3,184.3 527.0,184.1 527.7,184.4 528.4,183.8 529.1,183.9 529.8,184.6 530.5,184.7 531.2,185.9 531.9,186.5 532.6,186.1 533.3,187.2 534.0,188.0 534.7,188.8 535.4,188.6 536.1,189.1 536.8,190.7 537.5,191.7 538.2,191.9 538.9,193.2 539.6,193.9 540.3,193.2 541.0,191.2 541.7,190.9 542.4,190.2 543.1,189.0 543.8,188.2 544.5,187.7 545.2,187.7 545.9,188.0 546.6,186.7 547.3,186.3 548.0,186.2 548.7,185.3 549.4,185.1 550.1,184.8 550.8,185.8 551.5,186.5 552.2,186.7 552.9,186.9 553.6,187.7 554.3,188.5 555.0,189.4 555.7,190.0 556.4,189.7 557.1,189.9 557.8,191.4 558.5,192.0 559.2,191.8 559.9,192.5 560.6,192.9 561.3,192.8 562.0,193.1 562.7,191.1 563.4,190.5 564.1,189.6 564.8,188.6 565.5,188.9 566.2,187.3 566.9,187.6 567.6,186.3 568.3,186.2 569.0,185.8 569.7,185.2 570.4,185.3 571.1,184.9 571.8,184.3 572.5,184.7 573.2,184.0 573.9,184.1 574.6,184.6 575.3,184.9 576.0,185.0 576.7,186.2 577.4,186.5 578.1,186.0 578.8,186.5 579.5,186.6 580.2,187.0 580.9,187.0 581.6,187.4 582.3,188.2 583.0,187.9 583.7,188.5 584.4,188.2 585.1,188.0 585.8,186.9 586.5,187.6 587.2,187.6 587.9,187.0 588.6,186.5 589.3,186.8 590.0,186.9 590.7,186.8 591.4,186.3 592.1,187.3 592.8,187.4 593.5,186.9 594.2,187.2 594.9,186.8 595.6,188.3 596.3,188.5 597.0,188.6 597.7,189.1" fill="none" stroke="#17becf" stroke-width="2.8" stroke-linejoin="round"/>
<rect x="444.8" y="87.1" width="153.10" height="110.10" fill="none" stroke="#000" stroke-width="1.2"/>
<line x1="440.2" y1="197.20" x2="444.8" y2="197.20" stroke="#000" stroke-width="1.1"/>
<line x1="442.2" y1="186.19" x2="444.8" y2="186.19" stroke="#000" stroke-width="0.9"/>
<line x1="442.2" y1="175.18" x2="444.8" y2="175.18" stroke="#000" stroke-width="0.9"/>
<line x1="442.2" y1="164.17" x2="444.8" y2="164.17" stroke="#000" stroke-width="0.9"/>
<line x1="442.2" y1="153.16" x2="444.8" y2="153.16" stroke="#000" stroke-width="0.9"/>
<line x1="440.2" y1="142.15" x2="444.8" y2="142.15" stroke="#000" stroke-width="1.1"/>
<line x1="442.2" y1="131.14" x2="444.8" y2="131.14" stroke="#000" stroke-width="0.9"/>
<line x1="442.2" y1="120.13" x2="444.8" y2="120.13" stroke="#000" stroke-width="0.9"/>
<line x1="442.2" y1="109.12" x2="444.8" y2="109.12" stroke="#000" stroke-width="0.9"/>
<line x1="442.2" y1="98.11" x2="444.8" y2="98.11" stroke="#000" stroke-width="0.9"/>
<line x1="440.2" y1="87.10" x2="444.8" y2="87.10" stroke="#000" stroke-width="1.1"/>
<line x1="444.80" y1="197.2" x2="444.80" y2="201.8" stroke="#000" stroke-width="1.1"/>
<line x1="460.11" y1="197.2" x2="460.11" y2="199.5" stroke="#000" stroke-width="0.9"/>
<line x1="475.42" y1="197.2" x2="475.42" y2="199.5" stroke="#000" stroke-width="0.9"/>
<line x1="490.73" y1="197.2" x2="490.73" y2="199.5" stroke="#000" stroke-width="0.9"/>
<line x1="506.04" y1="197.2" x2="506.04" y2="199.5" stroke="#000" stroke-width="0.9"/>
<line x1="521.35" y1="197.2" x2="521.35" y2="201.8" stroke="#000" stroke-width="1.1"/>
<line x1="536.66" y1="197.2" x2="536.66" y2="199.5" stroke="#000" stroke-width="0.9"/>
<line x1="551.97" y1="197.2" x2="551.97" y2="199.5" stroke="#000" stroke-width="0.9"/>
<line x1="567.28" y1="197.2" x2="567.28" y2="199.5" stroke="#000" stroke-width="0.9"/>
<line x1="582.59" y1="197.2" x2="582.59" y2="199.5" stroke="#000" stroke-width="0.9"/>
<line x1="597.90" y1="197.2" x2="597.90" y2="201.8" stroke="#000" stroke-width="1.1"/>
<text transform="translate(417.91,92.40) scale(1.0982,1)" font-size="16.20" fill="#000">20</text>
<text transform="translate(417.96,147.80) scale(1.0897,1)" font-size="16.20" fill="#000">10</text>
<text transform="translate(426.90,203.00) scale(1.1106,1)" font-size="16.20" fill="#000">0</text>
<text transform="translate(439.95,217.30) scale(1.1881,1)" font-size="16.20" fill="#000">0</text>
<text transform="translate(516.97,217.30) scale(1.1200,1)" font-size="16.20" fill="#000">5</text>
<text transform="translate(589.17,217.30) scale(1.0773,1)" font-size="16.20" fill="#000">10</text>
<text transform="translate(501.28,239.40) scale(1.0794,1)" font-size="16.00" fill="#000">E[eV]</text>
<rect x="475.7" y="93.6" width="115.2" height="42.8" rx="3" fill="#fff" fill-opacity="0.8" stroke="#dcdcdc" stroke-width="1.1"/>
<line x1="480.0" y1="104.4" x2="509.0" y2="104.4" stroke="#000" stroke-width="2.2"/>
<line x1="480.0" y1="123.8" x2="509.0" y2="123.8" stroke="#17becf" stroke-width="2.2"/>
<text transform="translate(519.20,109.50) scale(0.9938,1)" font-size="14.40" fill="#000">exact</text>
<text transform="translate(518.88,128.80) scale(0.9575,1)" font-size="14.40" fill="#000">lin. predict.</text></g></defs>
<use href="#panel" transform="translate(72.65,-71.4)"/>
<rect x="439.65" y="27.70" width="220.55" height="170.10" fill="#fff"/>
<use href="#panel" transform="translate(47.65,-48.2)"/>
<rect x="416.85" y="52.70" width="220.75" height="170.00" fill="#fff"/>
<use href="#panel" transform="translate(24.85,-23.3)"/>
<rect x="392.00" y="76.70" width="218.30" height="169.30" fill="#fff"/>
<use href="#panel" transform="translate(0,0)"/>
<g transform="translate(408.2,192.3) rotate(-90)"><text transform="translate(-1.53,0) scale(0.9921,1)" font-size="16.8">Int. [arb. units]</text></g>
</svg></body></html>
